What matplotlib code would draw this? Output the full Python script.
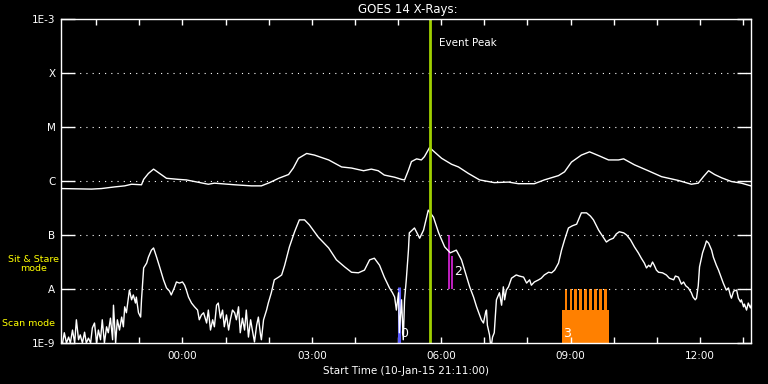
import numpy as np
import matplotlib
matplotlib.use("Agg")
import matplotlib.pyplot as plt
from matplotlib.ticker import FixedLocator, FuncFormatter, NullLocator

# GOES 14 X-ray flux, time in hours from 00:00 (start 21:11 previous day), log10(W/m^2)
long_t = [-2.82, -2.11, -1.88, -1.58, -1.34, -1.18, -0.95, -0.90, -0.79, -0.67,
          -0.53, -0.37, -0.09, 0.09, 0.28, 0.60, 0.74, 1.21, 1.60, 1.83,
          2.02, 2.23, 2.46, 2.57, 2.69, 2.88, 3.06, 3.39, 3.69, 3.92,
          4.20, 4.38, 4.54, 4.68, 4.92, 5.08, 5.15, 5.24, 5.31, 5.43,
          5.54, 5.61, 5.73, 5.84, 6.01, 6.24, 6.40, 6.63, 6.89, 7.23,
          7.56, 7.79, 8.16, 8.39, 8.72, 8.86, 9.02, 9.25, 9.44, 9.65,
          9.88, 10.11, 10.23, 10.48, 10.80, 11.11, 11.50, 11.80, 11.96, 12.08,
          12.20, 12.34, 12.50, 12.73, 12.96, 13.18]
long_log = [-6.14, -6.15, -6.14, -6.11, -6.09, -6.06, -6.07, -5.97, -5.86, -5.78,
            -5.86, -5.95, -5.97, -5.98, -6.01, -6.06, -6.04, -6.07, -6.09, -6.09,
            -6.03, -5.95, -5.88, -5.76, -5.58, -5.49, -5.52, -5.61, -5.74, -5.76,
            -5.81, -5.78, -5.81, -5.89, -5.93, -5.97, -5.98, -5.80, -5.64, -5.59,
            -5.61, -5.55, -5.38, -5.46, -5.58, -5.69, -5.74, -5.86, -5.98, -6.03,
            -6.02, -6.05, -6.05, -5.98, -5.90, -5.83, -5.65, -5.52, -5.46, -5.53,
            -5.61, -5.61, -5.59, -5.70, -5.81, -5.92, -5.99, -6.06, -6.04, -5.92,
            -5.81, -5.88, -5.94, -6.01, -6.04, -6.09]

short_t = [-2.78, -2.74, -2.69, -2.64, -2.60, -2.55, -2.50, -2.46, -2.41, -2.37,
           -2.32, -2.27, -2.23, -2.18, -2.13, -2.09, -2.04, -1.99, -1.95, -1.90,
           -1.86, -1.81, -1.76, -1.72, -1.67, -1.62, -1.60, -1.55, -1.51, -1.46,
           -1.41, -1.37, -1.34, -1.30, -1.23, -1.18, -1.14, -1.09, -1.07, -1.02,
           -0.97, -0.95, -0.90, -0.83, -0.79, -0.72, -0.67, -0.60, -0.53, -0.44,
           -0.37, -0.30, -0.26, -0.19, -0.14, -0.07, 0.00, 0.05, 0.09, 0.14,
           0.21, 0.28, 0.35, 0.39, 0.44, 0.49, 0.56, 0.60, 0.65, 0.70,
           0.74, 0.79, 0.83, 0.88, 0.93, 0.97, 1.02, 1.07, 1.11, 1.16,
           1.21, 1.25, 1.30, 1.34, 1.39, 1.44, 1.48, 1.53, 1.58, 1.62,
           1.67, 1.72, 1.76, 1.81, 1.83, 1.88, 1.90, 1.95, 1.99, 2.06,
           2.13, 2.23, 2.30, 2.37, 2.48, 2.60, 2.71, 2.83, 2.94, 3.15,
           3.39, 3.57, 3.76, 3.92, 4.08, 4.22, 4.34, 4.45, 4.57, 4.68,
           4.80, 4.87, 4.92, 4.96, 5.01, 5.03, 5.08, 5.12, 5.15, 5.19,
           5.24, 5.26, 5.38, 5.50, 5.59, 5.70, 5.82, 5.94, 6.08, 6.21,
           6.35, 6.47, 6.59, 6.66, 6.75, 6.82, 6.89, 6.93, 6.98, 7.03,
           7.05, 7.07, 7.12, 7.14, 7.17, 7.19, 7.23, 7.28, 7.35, 7.40,
           7.44, 7.47, 7.51, 7.56, 7.63, 7.74, 7.81, 7.91, 7.98, 8.05,
           8.09, 8.16, 8.26, 8.32, 8.39, 8.49, 8.56, 8.63, 8.72, 8.79,
           8.86, 8.95, 9.04, 9.14, 9.25, 9.37, 9.46, 9.53, 9.65, 9.74,
           9.83, 9.90, 9.99, 10.06, 10.13, 10.23, 10.30, 10.39, 10.48, 10.57,
           10.64, 10.71, 10.76, 10.81, 10.85, 10.90, 10.94, 10.99, 11.04, 11.13,
           11.22, 11.29, 11.39, 11.43, 11.50, 11.57, 11.62, 11.67, 11.73, 11.80,
           11.84, 11.89, 11.92, 11.96, 11.99, 12.06, 12.12, 12.15, 12.20, 12.27,
           12.31, 12.38, 12.43, 12.50, 12.54, 12.61, 12.66, 12.71, 12.73, 12.78,
           12.85, 12.89, 12.94, 12.96, 13.01, 13.03, 13.08, 13.12, 13.17, 13.19]
short_log = [-9.00, -8.81, -9.00, -8.89, -9.00, -8.76, -9.00, -8.57, -8.94, -8.85,
             -9.00, -8.80, -9.00, -8.91, -9.00, -8.72, -8.63, -9.00, -8.76, -8.94,
             -8.57, -9.00, -8.70, -8.81, -8.54, -8.94, -8.30, -9.00, -8.57, -8.76,
             -8.52, -8.70, -8.33, -8.44, -8.02, -8.20, -8.11, -8.26, -8.15, -8.44,
             -8.52, -8.20, -7.61, -7.52, -7.41, -7.28, -7.24, -7.41, -7.59, -7.83,
             -7.98, -8.04, -8.11, -7.98, -7.87, -7.89, -7.87, -7.93, -8.02, -8.15,
             -8.26, -8.33, -8.39, -8.57, -8.48, -8.44, -8.63, -8.39, -8.76, -8.57,
             -8.70, -8.30, -8.26, -8.54, -8.39, -8.70, -8.48, -8.76, -8.57, -8.39,
             -8.44, -8.57, -8.33, -8.81, -8.54, -8.76, -8.39, -8.89, -8.57, -8.76,
             -8.98, -8.67, -8.52, -8.85, -8.94, -8.57, -8.52, -8.39, -8.26, -8.07,
             -7.83, -7.78, -7.74, -7.56, -7.22, -6.94, -6.72, -6.72, -6.81, -7.04,
             -7.24, -7.46, -7.59, -7.69, -7.70, -7.65, -7.46, -7.43, -7.56, -7.78,
             -7.98, -8.07, -8.15, -8.39, -8.07, -8.81, -8.20, -8.94, -8.20, -7.83,
             -7.28, -6.96, -6.87, -7.06, -6.91, -6.54, -6.67, -6.96, -7.22, -7.33,
             -7.28, -7.46, -7.78, -7.96, -8.15, -8.33, -8.48, -8.57, -8.63, -8.43,
             -8.39, -8.67, -8.85, -9.00, -9.00, -8.89, -8.81, -8.20, -8.07, -8.30,
             -7.96, -8.20, -8.02, -7.96, -7.80, -7.74, -7.76, -7.78, -7.89, -7.83,
             -7.93, -7.87, -7.83, -7.80, -7.74, -7.69, -7.70, -7.65, -7.52, -7.28,
             -7.09, -6.87, -6.83, -6.80, -6.59, -6.59, -6.65, -6.72, -6.91, -7.02,
             -7.13, -7.09, -7.06, -6.98, -6.94, -6.96, -7.00, -7.09, -7.22, -7.33,
             -7.43, -7.52, -7.61, -7.56, -7.59, -7.50, -7.56, -7.65, -7.69, -7.70,
             -7.74, -7.80, -7.83, -7.76, -7.78, -7.91, -7.87, -7.94, -7.98, -8.07,
             -8.15, -8.20, -8.17, -7.94, -7.59, -7.33, -7.19, -7.11, -7.15, -7.28,
             -7.41, -7.56, -7.65, -7.80, -7.89, -8.02, -7.98, -8.13, -8.17, -8.04,
             -8.02, -8.17, -8.24, -8.20, -8.33, -8.28, -8.39, -8.26, -8.35, -8.30]

t_start, t_end = -2.8167, 13.1833   # 21:11 -> 13:11
peak_t = 5.73
blue_t = 5.01
magenta_t = [6.19, 6.26]
magenta_top = [1e-7, 4e-8]
scan_start, scan_end = 8.79, 9.88
scan_top = 4.1e-9
stare_t = [8.86, 8.975, 9.09, 9.205, 9.32, 9.435, 9.55, 9.665, 9.78]
stare_w = 0.062

ytick_vals = [1e-9, 1e-8, 1e-7, 1e-6, 1e-5, 1e-4, 1e-3]
ytick_labels = ["1E-9", "A", "B", "C", "M", "X", "1E-3"]

plt.rcParams['font.family'] = ['DejaVu Sans']
fig = plt.figure(figsize=(7.68, 3.84), dpi=100, facecolor="black")
ax = fig.add_axes([61 / 768, 41 / 384, 690 / 768, 324 / 384], facecolor="black")

# flags / markers
ax.fill_between([scan_start, scan_end], 1e-9, scan_top, color="#ff8000", lw=0)
ax.bar(stare_t, [1e-8 - 1e-9] * len(stare_t), bottom=1e-9, width=stare_w, align="edge",
       color="#ff8000", lw=0)
ax.vlines(blue_t, 1e-9, 1.1e-8, color="#5a5aff", lw=2.2)
ax.vlines(magenta_t, 1e-8, magenta_top, color="#c020c0", lw=1.4)

for lvl in ytick_vals[1:-1]:
    ax.axhline(lvl, color="white", lw=0.8, ls=(0, (1, 4.6)))

ax.plot(long_t, 10 ** np.array(long_log), color="white", lw=1.0)
ax.plot(short_t, 10 ** np.array(short_log), color="white", lw=1.0)

ax.axvline(peak_t, color="#a0d000", lw=2)
ax.text(peak_t + 0.23, 10 ** -3.44, "Event Peak", color="white", fontsize=7.5, va="center")
ax.text(blue_t + 0.03, 10 ** -8.82, "0", color="white", fontsize=9, va="center")
ax.text(magenta_t[1] + 0.04, 10 ** -7.68, "2", color="white", fontsize=9, va="center")
ax.text(scan_start + 0.03, 10 ** -8.82, "3", color="white", fontsize=9, va="center")

ax.set_yscale("log")
ax.set_ylim(1e-9, 1e-3)
ax.set_xlim(t_start, t_end)
ax.yaxis.set_major_locator(FixedLocator(ytick_vals))
ax.yaxis.set_minor_locator(NullLocator())
ax.set_yticklabels(ytick_labels)
ax.xaxis.set_major_locator(FixedLocator([0, 3, 6, 9, 12]))
ax.xaxis.set_minor_locator(FixedLocator(list(range(-2, 14))))
ax.xaxis.set_major_formatter(FuncFormatter(lambda v, p: "%02d:00" % (int(round(v)) % 24)))

ax.tick_params(axis="y", which="major", direction="in", length=10, width=1,
               color="white", labelcolor="white", labelsize=7.5, left=True, right=True, pad=4)
ax.tick_params(axis="x", which="both", direction="in", length=4, width=1,
               color="white", labelcolor="white", labelsize=7.5, top=True, bottom=True, pad=6)
for sp in ax.spines.values():
    sp.set_color("white")
    sp.set_linewidth(1)

ax.set_xlabel("Start Time (10-Jan-15 21:11:00)", color="white", fontsize=7.5, labelpad=3)
fig.text(408 / 768, 1 - 10 / 384, "GOES 14 X-Rays:", color="white", fontsize=8.5,
         ha="center", va="center")
fig.text(34 / 768, 1 - 264 / 384, "Sit & Stare\nmode", color="#ffff00", fontsize=6.8,
         ha="center", va="center", linespacing=1.0)
fig.text(2 / 768, 1 - 324 / 384, "Scan mode", color="#ffff00", fontsize=6.8,
         ha="left", va="center")

fig.savefig("out.png", dpi=100, facecolor="black")
